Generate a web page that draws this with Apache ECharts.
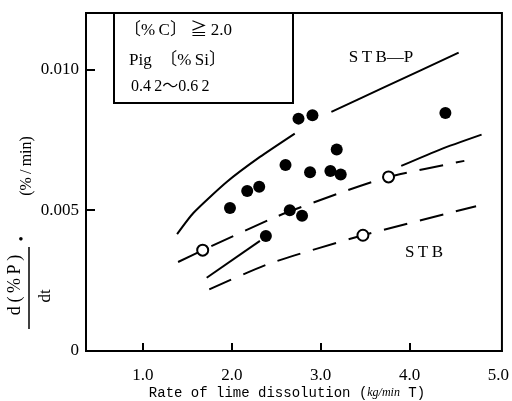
<!DOCTYPE html>
<html>
<head>
<meta charset="utf-8">
<script src="https://cdn.jsdelivr.net/npm/echarts@6/dist/echarts.min.js"></script>
<style>
  html, body { margin: 0; padding: 0; background: #fff; }
  #make { width: 512px; height: 401px; }
</style>
</head>
<body>
<div id="make"></div>
<script>
// 实测点 (filled)
var filledX = [1.980, 2.174, 2.309, 2.384, 2.605, 2.653, 2.751, 2.791, 2.881, 2.908, 3.110, 3.181, 3.226, 4.404];
var filledY = [0.00508, 0.00568, 0.00583, 0.00408, 0.00660, 0.00500, 0.00825, 0.00480, 0.00635, 0.00837, 0.00639, 0.00715, 0.00627, 0.00845];
// open circles
var openX = [1.673, 3.476, 3.764];
var openY = [0.00358, 0.00411, 0.00618];

// curves: [x, y]
var stbpLow = [[1.385, 0.00415], [1.568, 0.00490], [1.943, 0.00600], [2.317, 0.00689], [2.709, 0.00772]];
var stbpHigh = [[3.121, 0.00849], [3.700, 0.00934], [4.553, 0.01059]];
var solidLow = [[1.718, 0.00260], [2.317, 0.00391]];
var solidHigh = [[3.907, 0.00657], [4.350, 0.00716], [4.811, 0.00768]];
var dashUpper = [[1.396, 0.00316], [1.673, 0.00358], [2.519, 0.00479], [3.270, 0.00567], [3.764, 0.00618], [4.617, 0.00675]];
var dashStb = [[1.747, 0.00219], [2.429, 0.00311], [3.476, 0.00411], [4.749, 0.00514]];

var xTicks = [1, 2, 3, 4];
var xLabels = [1, 2, 3, 4, 5];
var yTicks = [0.005, 0.010];
var yLabels = [0, 0.005, 0.010];

var serif = '"Liberation Serif", "DejaVu Serif", "Noto Sans CJK JP", serif';
var sp = '\u2009';

function pairs(xs, ys) {
    return xs.map(function (x, i) { return [x, ys[i]]; });
}

function curve(data, dashed) {
    return {
        type: 'line',
        data: data,
        smooth: 0.2,
        symbol: 'none',
        silent: true,
        z: 2,
        lineStyle: { color: '#000', width: 2, type: dashed ? [24, 13] : 'solid' }
    };
}

var myChart = echarts.init(document.getElementById('make'));

var option = {
    animation: false,
    backgroundColor: '#fff',
    grid: {
        left: 86, top: 13, right: 9, bottom: 50,
        show: true, borderColor: '#000', borderWidth: 2
    },
    xAxis: {
        type: 'value',
        min: 0.36,
        max: 5.04,
        axisLine: { show: true, lineStyle: { color: '#000', width: 2 } },
        splitLine: { show: false },
        axisTick: { show: true, inside: true, length: 8, customValues: xTicks, lineStyle: { color: '#000', width: 2 } },
        axisLabel: {
            customValues: xLabels,
            margin: 16,
            color: '#000',
            fontFamily: serif,
            fontSize: 17,
            formatter: function (v) { return v.toFixed(1); }
        }
    },
    yAxis: {
        type: 'value',
        min: 0,
        max: 0.012,
        axisLine: { show: true, lineStyle: { color: '#000', width: 2 } },
        splitLine: { show: false },
        axisTick: { show: true, inside: true, length: 9, customValues: yTicks, lineStyle: { color: '#000', width: 2 } },
        axisLabel: {
            customValues: yLabels,
            margin: 7,
            color: '#000',
            fontFamily: serif,
            fontSize: 17,
            formatter: function (v) { return v === 0 ? '0' : v.toFixed(3); }
        }
    },
    graphic: [
        // legend box
        { type: 'rect', shape: { x: 114, y: 13, width: 179, height: 90 }, style: { fill: '#fff', stroke: '#000', lineWidth: 2 }, z: 10 },
        { type: 'text', x: 124, y: 31, z: 11, style: { text: '〔%' + sp + 'C〕' + sp + '≧' + sp + '2.0', font: '17px ' + serif, fill: '#000', verticalAlign: 'middle' } },
        { type: 'text', x: 129, y: 61, z: 11, style: { text: 'Pig  〔%' + sp + 'Si〕', font: '17px ' + serif, fill: '#000', verticalAlign: 'middle' } },
        { type: 'text', x: 131, y: 87, z: 11, style: { text: '0.4' + sp + '2～0.6' + sp + '2', font: '16px ' + serif, fill: '#000', verticalAlign: 'middle' } },
        // curve labels
        { type: 'text', x: 381, y: 58, z: 11, style: { text: 'S' + sp + 'T' + sp + 'B—P', font: '17px ' + serif, fill: '#000', align: 'center', verticalAlign: 'middle' } },
        { type: 'text', x: 424, y: 253, z: 11, style: { text: 'S' + sp + 'T' + sp + 'B', font: '17px ' + serif, fill: '#000', align: 'center', verticalAlign: 'middle' } },
        // y axis title
        { type: 'text', x: 27, y: 166, rotation: Math.PI / 2, style: { text: '(%' + sp + '/' + sp + 'min)', font: '16px ' + serif, fill: '#000', align: 'center', verticalAlign: 'middle' } },
        { type: 'text', x: 21, y: 240, style: { text: '•', font: '15px ' + serif, fill: '#000', align: 'center', verticalAlign: 'middle' } },
        { type: 'text', x: 15, y: 285, rotation: Math.PI / 2, style: { text: 'd' + sp + '(' + sp + '%' + sp + 'P' + sp + ')', font: '18px ' + serif, fill: '#000', align: 'center', verticalAlign: 'middle' } },
        { type: 'line', shape: { x1: 29, y1: 247, x2: 29, y2: 329 }, style: { stroke: '#000', lineWidth: 1.5 } },
        { type: 'text', x: 46, y: 296, rotation: Math.PI / 2, style: { text: 'dt', font: '17px ' + serif, fill: '#000', align: 'center', verticalAlign: 'middle' } },
        // x axis title
        {
            type: 'text', x: 287, y: 393,
            style: {
                text: '{a|Rate of lime dissolution (}{b|kg/min}{a| T)}',
                align: 'center', verticalAlign: 'middle',
                rich: {
                    a: { font: '14px "Liberation Mono", monospace', fill: '#000' },
                    b: { font: 'italic 12px ' + serif, fill: '#000' }
                }
            }
        }
    ],
    series: [
        curve(stbpLow, false),
        curve(stbpHigh, false),
        curve(solidLow, false),
        curve(solidHigh, false),
        curve(dashUpper, true),
        curve(dashStb, true),
        {
            name: 'filled',
            type: 'scatter',
            data: pairs(filledX, filledY),
            symbol: 'circle',
            symbolSize: 12,
            z: 5,
            itemStyle: { color: '#000', opacity: 1 }
        },
        {
            name: 'open',
            type: 'scatter',
            data: pairs(openX, openY),
            symbol: 'circle',
            symbolSize: 11,
            z: 5,
            itemStyle: { color: '#fff', borderColor: '#000', borderWidth: 2, opacity: 1 }
        }
    ]
};
myChart.setOption(option);
</script>
</body>
</html>
